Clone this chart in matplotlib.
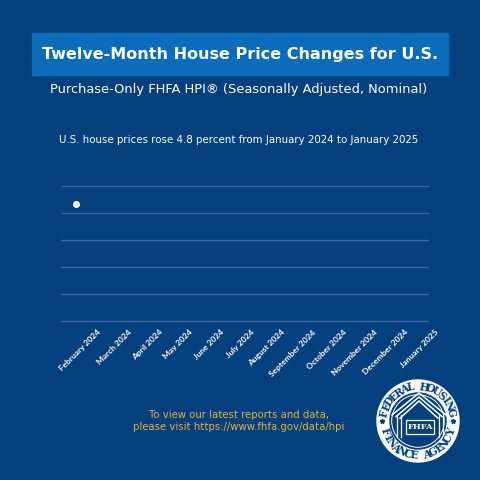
import numpy as np
import matplotlib.pyplot as plt
from matplotlib.patches import Rectangle, Circle
from matplotlib.transforms import ScaledTranslation

# data
months = ['February 2024', 'March 2024', 'April 2024', 'May 2024', 'June 2024',
          'July 2024', 'August 2024', 'September 2024', 'October 2024',
          'November 2024', 'December 2024', 'January 2025']
hpi_change = [6.5] + [np.nan] * 11   # only the first month shown so far
grid_ticks = [0, 1.5, 3.0, 4.5, 6.0, 7.5]

title = 'Twelve-Month House Price Changes for U.S.'
subtitle = 'Purchase-Only FHFA HPI® (Seasonally Adjusted, Nominal)'
summary = 'U.S. house prices rose 4.8 percent from January 2024 to January 2025'
footer = 'To view our latest reports and data,\nplease visit https://www.fhfa.gov/data/hpi'

bg_col = '#043f7e'
box_col = '#0b6cbb'
grid_col = '#3a6aab'
gold = '#e2b23c'

fig = plt.figure(figsize=(4.8, 4.8), dpi=100, facecolor=bg_col)

# overlay in pixel coords for the decorations
deco = fig.add_axes([0, 0, 1, 1])
deco.set_xlim(0, 480)
deco.set_ylim(480, 0)
deco.axis('off')

deco.add_patch(Rectangle((32, 33), 416, 42, color=box_col))
deco.text(240, 54, title, color='white', fontsize=11.5, fontweight='bold',
          family='DejaVu Sans', ha='center', va='center')
deco.text(239, 89, subtitle, color='white', fontsize=9.4,
          family='DejaVu Sans', ha='center', va='center')
deco.text(239, 140, summary, color='white', fontsize=7.4,
          family='DejaVu Sans', ha='center', va='center')
deco.text(239, 421, footer, color=gold, fontsize=7.3, family='DejaVu Sans',
          ha='center', va='center', linespacing=1.35)

# FHFA seal
cx, cy = 418, 421
deco.add_patch(Circle((cx, cy), 41, color='white'))
deco.add_patch(Circle((cx, cy), 28, color=bg_col))
deco.add_patch(Circle((cx, cy), 26.3, fill=False, ec='white', lw=0.7))
r_txt = 34.5
top_txt = 'FEDERAL HOUSING'
for i, ch in enumerate(top_txt):
    a = 167 - i * (152 / (len(top_txt) - 1))
    t = np.radians(a)
    deco.text(cx + r_txt * np.cos(t), cy - r_txt * np.sin(t), ch, rotation=a - 90,
              color=bg_col, fontsize=7.6, fontweight='bold', family='DejaVu Serif',
              ha='center', va='center', rotation_mode='anchor')
bot_txt = 'FINANCE AGENCY'
for i, ch in enumerate(bot_txt):
    a = 197 + i * (144 / (len(bot_txt) - 1))
    t = np.radians(a)
    deco.text(cx + r_txt * np.cos(t), cy - r_txt * np.sin(t), ch, rotation=a - 270,
              color=bg_col, fontsize=7.6, fontweight='bold', family='DejaVu Serif',
              ha='center', va='center', rotation_mode='anchor')
deco.plot([cx - 36, cx + 35], [cy, cy], '*', color=bg_col, ms=3.5)
for d in [0, 4, 8]:
    deco.plot([cx - 26 + d, cx + 1, cx + 28 - d], [cy - 6 + d * 0.4, cy - 28 + d, cy - 6 + d * 0.4],
              color='white', lw=1.1, solid_joinstyle='miter')
for px in [cx - 21, cx - 17, cx + 21, cx + 25]:
    deco.plot([px, px], [cy - 6, cy + 16], color='white', lw=0.9)
deco.add_patch(Rectangle((cx - 12, cy - 1), 28, 14, fc=bg_col, ec='white', lw=0.9))
deco.text(cx + 2, cy + 6, 'FHFA', color='white', fontsize=6, fontweight='bold',
          family='DejaVu Serif', ha='center', va='center')

# chart
unit = 135 / 7.5
pad = 0.3
ax = fig.add_axes([61 / 480, (480 - 321 - pad * unit) / 480,
                   368 / 480, (135 + 2 * pad * unit) / 480])
ax.set_facecolor('none')
x = np.arange(len(months))
ax.plot(x, hpi_change, 'o', color='white', ms=4)
ax.set_xlim(-0.5, len(months) - 0.5)
ax.set_ylim(-pad, 7.5 + pad)
ax.set_yticks(grid_ticks)
ax.yaxis.grid(True, color=grid_col, lw=1)
ax.set_axisbelow(True)
ax.tick_params(axis='y', left=False, labelleft=False)
ax.set_xticks(x)
ax.set_xticklabels(months, rotation=45, ha='right', va='top', rotation_mode='anchor',
                   color='white', fontsize=6.0, fontweight='bold', family='Lato')
ax.tick_params(axis='x', length=0, pad=1.5)
shift = ScaledTranslation(0.21, 0, fig.dpi_scale_trans)
for lbl in ax.get_xticklabels():
    lbl.set_transform(lbl.get_transform() + shift)
for s in ax.spines.values():
    s.set_visible(False)

fig.savefig('out.png', dpi=100, facecolor=bg_col)
